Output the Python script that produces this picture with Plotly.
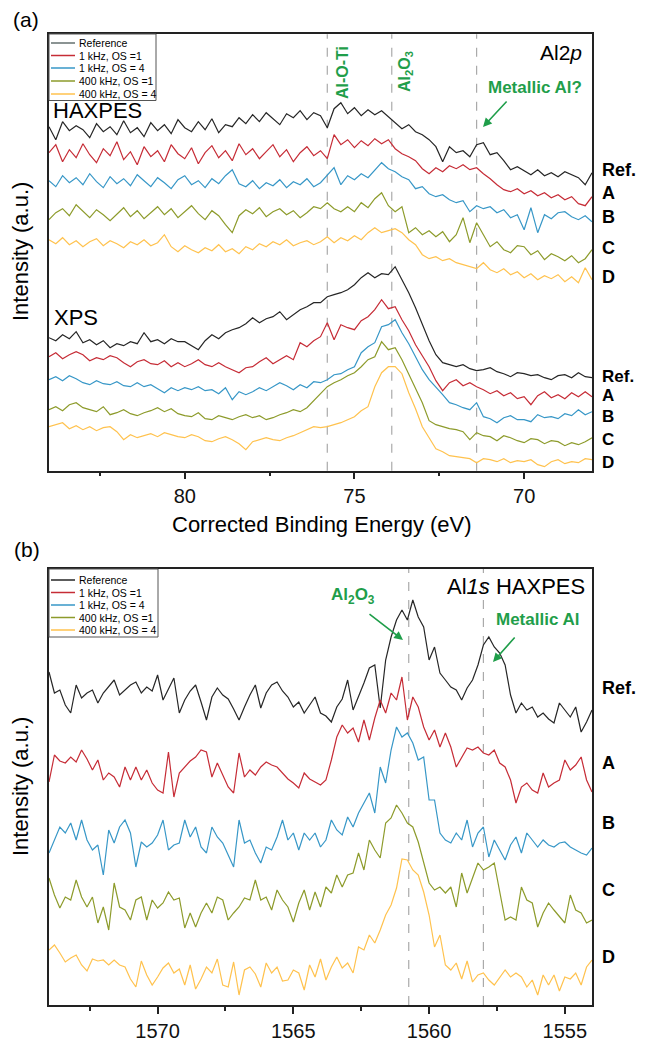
import numpy as np
import plotly.graph_objects as go

# ---------------- data ----------------
ENERGY_A = np.round(np.linspace(84.0, 68.0, 81), 2)      # Al 2p binding energy, eV
ENERGY_B = np.round(np.linspace(1574.0, 1554.0, 101), 2)  # Al 1s binding energy, eV

SERIES = ["Reference", "1 kHz, OS =1", "1 kHz, OS = 4", "400 kHz, OS =1", "400 kHz, OS = 4"]
COLORS = ["#262626", "#c62c36", "#3797c7", "#8d9b2b", "#ffc24e"]
CURVE_LABELS = ["Ref.", "A", "B", "C", "D"]

# Al 2p HAXPES (stacked intensity, a.u.)
A_HAX_REF = [344,331,349,340,345,341,333,347,339,344,336,350,338,343,334,348,340,346,337,351,343,339,349,341,352,338,346,344,
             353,347,356,349,358,352,346,357,353,360,351,358,355,
             343,362,368,357,363,355,361,356,360,354,
             348,342,346,339,336,331,324,309,324,318,320,314,326,328,316,318,310,301,304,300,296,301,295,298,294,299,296,293,286,298]
A_HAX_1K1 = [318,326,309,321,313,327,316,308,322,315,329,311,319,306,324,314,320,309,326,317,312,323,307,318,325,313,320,310,327,316,322,312,319,326,314,321,309,318,324,315,320,
             312,336,326,331,323,330,325,332,327,331,
             322,317,314,310,302,297,303,299,305,302,306,301,303,297,292,286,281,279,282,277,280,275,278,273,276,271,274,267,265,274]
A_HAX_1K4 = [290,284,295,288,293,286,297,289,283,294,287,292,285,296,290,284,293,288,282,291,295,286,290,283,292,287,295,301,287,284,290,282,288,285,291,283,289,286,292,284,288,
             296,303,286,295,291,297,293,300,308,302,
             299,294,291,282,284,277,274,276,271,268,270,259,265,262,264,258,261,253,256,241,263,238,256,252,258,259,254,251,255,249]
A_HAX_400K1 = [251,258,262,255,266,259,253,261,256,250,257,263,254,260,252,258,264,256,262,253,259,265,257,251,260,255,246,238,255,261,257,263,254,259,262,256,260,253,258,264,262,
               268,262,259,264,259,268,263,272,278,265,
               259,264,238,243,236,240,234,239,229,236,253,228,248,236,224,229,221,218,225,224,216,220,211,217,214,210,215,208,212,221]
A_HAX_400K4 = [231,227,233,226,230,224,229,232,225,230,227,223,229,226,231,225,228,236,224,219,225,221,218,223,220,226,219,222,217,224,221,227,224,229,226,231,225,228,230,226,229,
               234,228,233,230,235,231,238,243,238,240,
               242,238,231,226,216,212,214,210,212,208,206,204,202,208,201,198,202,196,199,193,197,191,195,192,196,189,194,188,203,191]

# Al 2p XPS (stacked intensity, a.u.)
A_XPS_REF = [133,130,136,132,139,128,131,126,130,123,127,125,129,127,138,129,131,127,132,129,129,125,121,130,136,132,138,141,143,147,153,148,152,154,159,151,156,161,164,168,168,
             174,176,178,181,186,193,198,193,197,196,
             204,191,178,163,147,130,116,108,106,104,106,102,100,101,103,99,97,94,98,97,95,96,93,91,95,96,93,98,94,93]
A_XPS_1K1 = [114,118,112,116,119,116,110,113,111,115,113,108,104,109,111,107,106,110,104,108,104,107,111,106,104,108,104,101,98,103,104,109,113,107,111,115,111,128,124,130,134,
             148,131,146,143,141,150,154,161,171,162,
             164,151,140,126,115,104,90,80,88,91,85,88,84,81,77,80,75,78,72,74,66,75,79,73,76,72,78,74,79,74]
A_XPS_1K4 = [91,94,90,95,92,88,86,90,87,86,89,85,84,88,84,86,82,78,83,80,83,81,84,80,81,77,83,71,79,76,79,83,80,84,88,85,81,86,83,89,88,
             91,96,97,101,104,118,124,128,144,146,
             151,138,127,114,101,91,84,76,68,66,63,61,68,54,52,48,53,55,51,51,49,56,53,54,52,57,55,61,56,59]
A_XPS_400K1 = [61,64,60,66,68,63,61,59,64,56,58,61,57,55,58,60,63,59,62,57,55,54,58,52,51,55,53,51,54,56,53,55,51,53,56,58,61,59,63,70,78,
               84,88,91,95,98,104,111,114,129,121,
               123,111,97,83,68,50,46,44,42,41,39,31,38,35,34,30,35,33,30,28,32,31,27,30,29,25,28,26,29,33]
A_XPS_400K4 = [44,46,48,42,45,41,44,40,43,44,39,31,36,33,35,37,34,38,36,34,33,36,34,30,29,32,34,31,27,21,29,31,33,31,30,33,35,38,41,44,43,
               44,46,48,51,54,60,64,84,98,104,
               104,97,78,62,44,33,22,19,15,14,13,12,8,12,11,9,12,8,10,9,11,6,4,9,11,7,9,8,12,11]

# Al 1s HAXPES (stacked intensity, a.u.)
B_REF = [333,312,315,300,292,320,307,312,315,302,
         312,318,325,310,315,320,323,312,318,314,
         330,305,316,327,292,305,314,320,303,285,
         308,317,310,306,296,285,298,310,320,297,
         312,320,323,314,308,298,303,292,300,308,
         292,289,283,298,306,325,295,308,322,337,
         340,297,345,368,385,395,385,405,388,378,
         345,358,332,325,318,315,305,317,325,340,
         360,368,358,352,340,310,292,302,295,298,
         288,292,286,282,302,295,288,298,273,283,
         295]
B_1K1 = [223,250,244,242,248,243,255,246,235,245,
         225,232,228,218,238,225,238,225,235,222,
         215,212,253,208,232,238,244,248,255,253,
         228,242,230,218,212,252,228,235,230,238,
         243,240,238,232,226,222,217,232,226,223,
         220,225,245,268,280,272,277,263,285,265,
         287,305,292,312,305,328,285,308,298,278,
         265,275,258,272,258,238,248,257,255,258,
         252,250,255,242,238,225,202,218,222,215,
         212,232,218,222,225,245,235,240,248,225,
         213]
B_1K4 = [152,165,178,172,182,165,185,165,155,160,
         130,175,162,178,185,172,138,163,158,162,
         170,185,155,160,162,185,168,178,158,152,
         178,168,162,150,138,185,162,165,152,142,
         158,155,168,185,165,172,155,172,165,172,
         158,165,185,175,170,188,178,192,202,212,
         192,238,222,255,278,268,272,262,245,248,
         205,205,172,165,162,172,165,185,158,172,
         178,148,165,155,145,160,168,152,172,165,
         158,165,160,158,162,163,158,155,152,150,
         157]
B_400K1 = [127,110,97,108,105,125,108,98,108,82,
           98,75,122,98,95,85,105,108,85,105,
           97,102,113,105,107,77,92,78,92,102,
           92,108,105,85,92,98,107,105,125,105,
           108,95,115,105,98,83,102,115,95,113,
           98,118,112,130,118,130,132,152,135,165,
           155,147,182,187,200,192,182,178,163,142,
           122,115,118,112,118,98,132,112,128,142,
           135,138,142,112,85,88,85,118,105,102,
           78,92,102,95,88,82,110,95,92,82,
           85]
B_400K4 = [55,60,52,43,47,50,40,34,46,44,
           45,40,45,40,38,26,18,44,30,20,
           28,37,42,32,36,20,40,16,26,38,
           32,46,20,18,43,10,35,38,31,18,
           42,32,38,24,25,35,32,15,40,28,
           46,25,38,48,37,42,32,58,55,70,
           62,75,90,100,117,146,145,135,130,113,
           90,58,70,40,35,42,26,44,23,30,
           32,25,20,28,35,28,32,28,18,25,
           10,30,20,30,14,28,26,32,20,38,
           45]

PEAKS_A = [75.8, 73.9, 71.4]          # Al-O-Ti, Al2O3, metallic Al?
PEAKS_B = [1560.75, 1558.0]           # Al2O3, metallic Al
TICKS_A = [80, 75, 70]
MINOR_A = [82.5, 77.5, 72.5]
TICKS_B = [1570, 1565, 1560, 1555]
MINOR_B = [1572.5, 1567.5, 1562.5, 1557.5]

# ---------------- layout helpers ----------------
W, H = 647, 1041
ML, MR = 49, 55
PW = W - ML - MR
GREEN = "#1f9e4a"
FONT = "Arial, Liberation Sans, sans-serif"


def px(x):
    return (x - ML) / PW


def py(y):
    return 1 - y / H


fig = go.Figure()

for vals, c in zip([A_HAX_REF, A_HAX_1K1, A_HAX_1K4, A_HAX_400K1, A_HAX_400K4], COLORS):
    fig.add_trace(go.Scatter(x=ENERGY_A, y=vals, mode="lines", line=dict(color=c, width=1.2),
                             xaxis="x", yaxis="y", showlegend=False, hoverinfo="skip"))
for vals, c in zip([A_XPS_REF, A_XPS_1K1, A_XPS_1K4, A_XPS_400K1, A_XPS_400K4], COLORS):
    fig.add_trace(go.Scatter(x=ENERGY_A, y=vals, mode="lines", line=dict(color=c, width=1.2),
                             xaxis="x", yaxis="y", showlegend=False, hoverinfo="skip"))
for vals, c in zip([B_REF, B_1K1, B_1K4, B_400K1, B_400K4], COLORS):
    fig.add_trace(go.Scatter(x=ENERGY_B, y=vals, mode="lines", line=dict(color=c, width=1.2),
                             xaxis="x2", yaxis="y2", showlegend=False, hoverinfo="skip"))

frame = dict(showline=True, linecolor="#222", linewidth=1.5, mirror=True,
             showgrid=False, zeroline=False)
xtick = dict(ticks="outside", ticklen=7, tickwidth=1.5, tickcolor="#222",
             tickfont=dict(size=20, family=FONT, color="#111"))

fig.update_layout(
    width=W, height=H, margin=dict(l=ML, r=MR, t=0, b=0),
    paper_bgcolor="white", plot_bgcolor="white",
    font=dict(family=FONT, color="black"),
    xaxis=dict(domain=[0, 1], anchor="y", range=[84, 68], tickmode="array", tickvals=TICKS_A,
               minor=dict(tickmode="array", tickvals=MINOR_A, ticks="outside", ticklen=4,
                          tickwidth=1.5, tickcolor="#222"),
               **xtick, **frame),
    yaxis=dict(domain=[py(470.7), py(34.3)], anchor="x", range=[0, 436.4],
               showticklabels=False, ticks="", **frame),
    xaxis2=dict(domain=[0, 1], anchor="y2", range=[1574, 1554], tickmode="array", tickvals=TICKS_B,
                minor=dict(tickmode="array", tickvals=MINOR_B, ticks="outside", ticklen=4,
                           tickwidth=1.5, tickcolor="#222"),
                **xtick, **frame),
    yaxis2=dict(domain=[py(1005), py(569)], anchor="x2", range=[0, 436],
                showticklabels=False, ticks="", **frame),
)

shapes = []
for p in PEAKS_A:
    shapes.append(dict(type="line", xref="x", yref="y domain", x0=p, x1=p, y0=0, y1=1, layer="below",
                       line=dict(color="#aaaaaa", width=1.2, dash="dash")))
for p in PEAKS_B:
    shapes.append(dict(type="line", xref="x2", yref="y2 domain", x0=p, x1=p, y0=0, y1=1, layer="below",
                       line=dict(color="#aaaaaa", width=1.2, dash="dash")))

ann = []


def text(x, y, s, size, color="black", xanchor="center", angle=0, bold=False):
    ann.append(dict(xref="paper", yref="paper", x=px(x), y=py(y), text=(f"<b>{s}</b>" if bold else s),
                    showarrow=False, xanchor=xanchor, yanchor="middle", textangle=angle,
                    font=dict(size=size, color=color, family=FONT)))


def arrow(x_tail, y_tail, x_head, y_head):
    ann.append(dict(xref="paper", yref="paper", x=px(x_head), y=py(y_head), text="",
                    showarrow=True, ax=x_tail - x_head, ay=y_tail - y_head,
                    arrowhead=2, arrowsize=1.1, arrowwidth=1.6, arrowcolor=GREEN))


# legends (drawn manually for compact spacing)
def legend(x0, y0, x1, y1, rows, ref_color):
    shapes.append(dict(type="rect", xref="paper", yref="paper", x0=px(x0), x1=px(x1),
                       y0=py(y1), y1=py(y0), line=dict(color="#555", width=1), fillcolor="white"))
    for i, (name, c, yy) in enumerate(zip(SERIES, COLORS, rows)):
        col = ref_color if i == 0 else c
        shapes.append(dict(type="line", xref="paper", yref="paper", x0=px(51), x1=px(75),
                           y0=py(yy), y1=py(yy), line=dict(color=col, width=1.5)))
        text(77, yy, name, 10.5, xanchor="left")


legend(49, 34, 156, 100.5, [43, 55.5, 68, 81, 94], "#65706f")
legend(49, 569, 158, 637, [580, 592.5, 605, 617.5, 630], "#262626")

# panel labels
text(26, 19, "(a)", 21)
text(27, 549, "(b)", 21)

# axis titles
text(322, 524, "Corrected Binding Energy (eV)", 22)
text(20, 252, "Intensity (a.u.)", 22, angle=-90)
text(20, 787, "Intensity (a.u.)", 22, angle=-90)

# panel (a) annotations
text(51, 110, "HAXPES", 22, xanchor="left")
text(52, 317, "XPS", 22, xanchor="left")
text(584, 52, "Al2<i>p</i>", 21, xanchor="right")
text(342, 73, "Al-O-Ti", 16, color=GREEN, angle=-90, bold=True)
text(406, 72, "Al<sub>2</sub>O<sub>3</sub>", 16, color=GREEN, angle=-90, bold=True)
text(535, 88, "Metallic Al?", 17, color=GREEN, bold=True)
arrow(508, 100, 483, 127)

for lab, yy in zip(CURVE_LABELS, [170, 193, 217, 248, 277]):
    text(600, yy, lab, 18, xanchor="left", bold=True)
for lab, yy in zip(CURVE_LABELS, [376, 395.5, 416, 440, 463]):
    text(600, yy, lab, 17, xanchor="left", bold=True)

# panel (b) annotations
text(587, 586, "Al<i>1s</i> HAXPES", 22, xanchor="right")
text(353, 596, "Al<sub>2</sub>O<sub>3</sub>", 17, color=GREEN, bold=True)
arrow(368, 613, 403, 640)
text(537, 619, "Metallic Al", 17, color=GREEN, bold=True)
arrow(516, 636, 493, 662)
for lab, yy in zip(CURVE_LABELS, [688, 763, 823, 890, 957]):
    text(600, yy, lab, 18, xanchor="left", bold=True)

fig.update_layout(shapes=shapes, annotations=ann)
fig.write_html("out.html")
